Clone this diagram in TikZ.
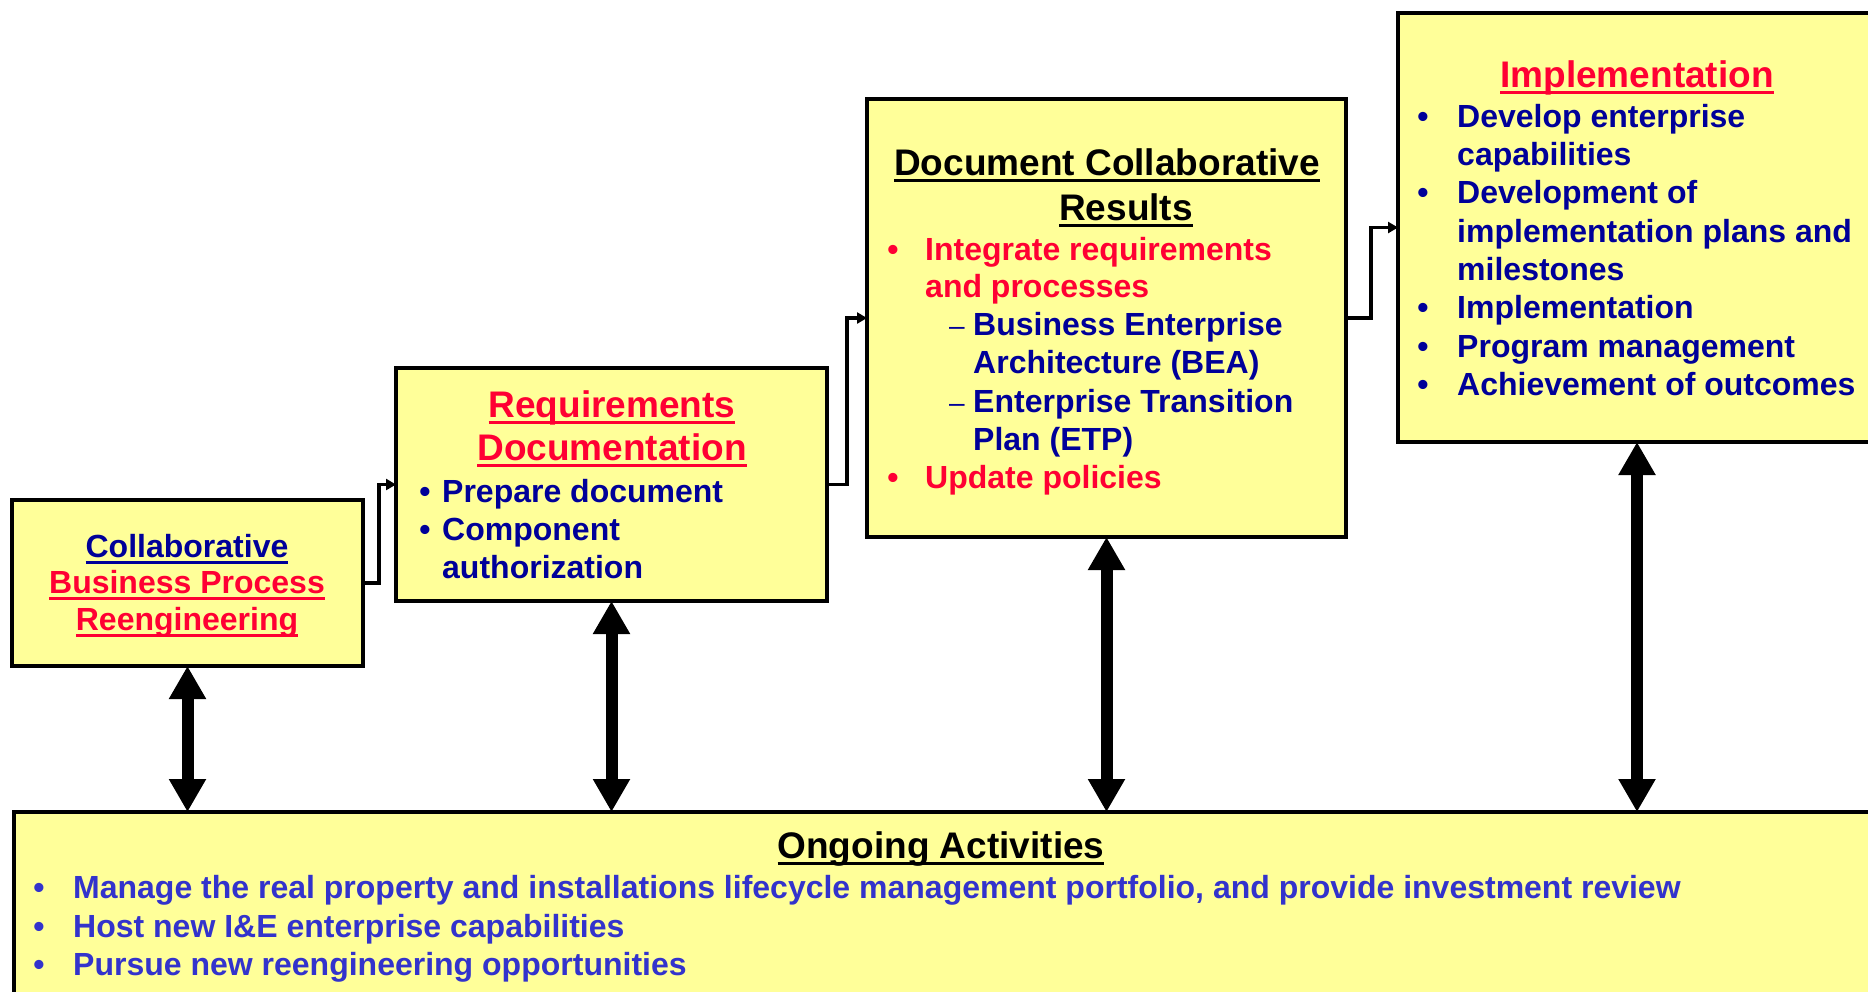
\documentclass[tikz,border=0pt]{standalone}
\usepackage{fontspec}
\setmainfont{Liberation Sans}
\usetikzlibrary{arrows.meta}
\definecolor{boxfill}{HTML}{FFFF99}
\definecolor{navy}{HTML}{000099}
\definecolor{hred}{HTML}{FF0033}
\definecolor{ogblue}{HTML}{3333CC}
\newcommand{\myul}[1]{\leavevmode\setbox0\hbox{#1}\rlap{\vrule height -3.5pt depth 7pt width \wd0}\box0}
\begin{document}
\begin{tikzpicture}[x=1pt,y=-1pt,
  box/.style={draw=black,line width=4pt,fill=boxfill,inner sep=0pt,outer sep=0pt,anchor=north west},
  ln/.style={anchor=base west,inner sep=0pt,font=\fontsize{32}{38}\selectfont\bfseries},
  bul/.style={anchor=base,inner sep=0pt,font=\fontsize{32}{38}\selectfont\bfseries},
  ttl/.style={anchor=base,inner sep=0pt,font=\fontsize{37}{44}\selectfont\bfseries},
  dsh/.style={anchor=base,inner sep=0pt,font=\fontsize{28}{32}\selectfont,text=navy},
  conn/.style={line width=3.5pt,-{Triangle[length=10pt,width=11pt]}},
  dbl/.style={line width=12pt,{Triangle[length=33pt,width=35pt]}-{Triangle[length=33pt,width=35pt]}}]
\useasboundingbox (0,0) rectangle (1868,991);
\clip (0,0) rectangle (1868,991);

% boxes
\node[box,minimum width=351pt,minimum height=166pt] (b1) at (12,500) {};
\node[box,minimum width=431pt,minimum height=233pt] (b2) at (396,368) {};
\node[box,minimum width=479pt,minimum height=438pt] (b3) at (867,99) {};
\node[box,minimum width=478pt,minimum height=429pt] (b4) at (1398,13) {};
\node[box,minimum width=1880pt,minimum height=200pt] (og) at (14,812) {};

% connectors
\draw[conn] (b1.east) -- ++(16,0) |- (b2.west);
\draw[conn] (b2.east) -- ++(20,0) |- (b3.west);
\draw[conn] (b3.east) -- ++(25,0) |- (b4.west);

% double arrows
\draw[dbl] (b1.south) -- (b1.south |- og.north);
\draw[dbl] (b2.south) -- (b2.south |- og.north);
\draw[dbl] (b3.south) -- (b3.south |- og.north);
\draw[dbl] (b4.south) -- (b4.south |- og.north);

% box 1
\node[bul,text=navy] (t1a) at (187,557) {\myul{Collaborative}};
\node[bul,text=hred] (t1b) at (187,593) {\myul{Business Process}};
\node[bul,text=hred] (t1c) at (187,630) {\myul{Reengineering}};

% box 2
\node[ttl,text=hred] (t2a) at (612,417) {\myul{Requirements}};
\node[ttl,text=hred] (t2b) at (612,460) {\myul{Documentation}};
\node[bul,text=navy] (d2a) at (425,502) {•};
\node[ln,text=navy] (l2a) at (442,502) {Prepare document};
\node[bul,text=navy] (d2b) at (425,540) {•};
\node[ln,text=navy] (l2b) at (442,540) {Component};
\node[ln,text=navy] (l2c) at (442,578) {authorization};

% box 3
\node[ttl,text=black] (t3a) at (1107,175) {\myul{Document Collaborative}};
\node[ttl,text=black] (t3b) at (1126,220) {\myul{Results}};
\node[bul,text=hred] (d3a) at (893,260) {•};
\node[ln,text=hred] (l3a) at (925,260) {Integrate requirements};
\node[ln,text=hred] (l3b) at (925,297) {and processes};
\node[dsh] (s3a) at (957,335) {–};
\node[ln,text=navy] (l3c) at (973,335) {Business Enterprise};
\node[ln,text=navy] (l3d) at (973,373) {Architecture (BEA)};
\node[dsh] (s3b) at (957,412) {–};
\node[ln,text=navy] (l3e) at (973,412) {Enterprise Transition};
\node[ln,text=navy] (l3f) at (973,450) {Plan (ETP)};
\node[bul,text=hred] (d3b) at (893,488) {•};
\node[ln,text=hred] (l3g) at (925,488) {Update policies};

% box 4
\node[ttl,text=hred] (t4a) at (1637,87) {\myul{Implementation}};
\node[bul,text=navy] (d4a) at (1423,127) {•};
\node[ln,text=navy] (l4a) at (1457,127) {Develop enterprise};
\node[ln,text=navy] (l4b) at (1457,165) {capabilities};
\node[bul,text=navy] (d4b) at (1423,203) {•};
\node[ln,text=navy] (l4c) at (1457,203) {Development of};
\node[ln,text=navy] (l4d) at (1457,242) {implementation plans and};
\node[ln,text=navy] (l4e) at (1457,280) {milestones};
\node[bul,text=navy] (d4c) at (1423,318) {•};
\node[ln,text=navy] (l4f) at (1457,318) {Implementation};
\node[bul,text=navy] (d4d) at (1423,357) {•};
\node[ln,text=navy] (l4g) at (1457,357) {Program management};
\node[bul,text=navy] (d4e) at (1423,395) {•};
\node[ln,text=navy] (l4h) at (1457,395) {Achievement of outcomes};

% ongoing
\node[ttl,text=black] (tog) at (941,858) {\myul{Ongoing Activities}};
\node[bul,text=ogblue] (dga) at (39,898) {•};
\node[ln,text=ogblue] (lga) at (73,898) {Manage the real property and installations lifecycle management portfolio, and provide investment review};
\node[bul,text=ogblue] (dgb) at (39,937) {•};
\node[ln,text=ogblue] (lgb) at (73,937) {Host new I\&E enterprise capabilities};
\node[bul,text=ogblue] (dgc) at (39,975) {•};
\node[ln,text=ogblue] (lgc) at (73,975) {Pursue new reengineering opportunities};
\end{tikzpicture}
\end{document}
